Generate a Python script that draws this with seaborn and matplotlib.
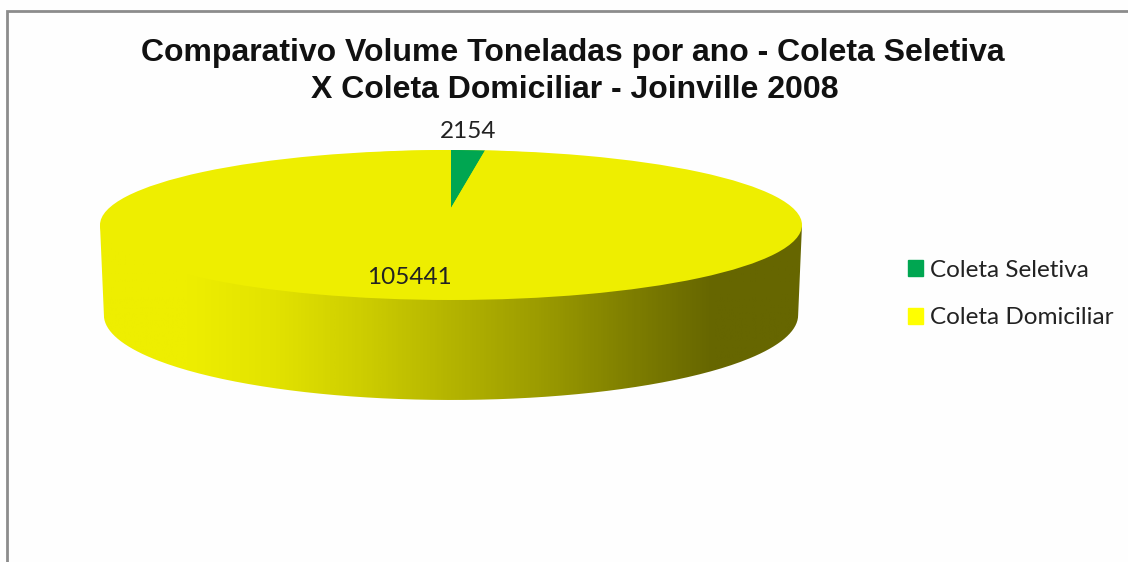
#!/usr/bin/env python3

# 3D looking pie: coleta seletiva x coleta domiciliar, Joinville 2008

import numpy as np
import matplotlib
matplotlib.use("Agg")
import matplotlib.pyplot as plt
import seaborn as sns
from matplotlib.lines import Line2D
from matplotlib.patches import Patch, PathPatch
from matplotlib.path import Path

categories = ["Coleta Seletiva", "Coleta Domiciliar"]
values = [2154, 105441]
title_lines = ["Comparativo Volume Toneladas por ano - Coleta Seletiva",
               "X Coleta Domiciliar - Joinville 2008"]

W, H = 1128, 562
CX, CY, RX, RY = 451, 225, 351, 75
TOP_YELLOW = "#EEEE00"
GREEN = "#00A651"


def fx(px):
    return px / W


def fy(py):
    return 1 - py / H


def main():
    sns.set_theme(style="white")
    plt.rcParams["font.family"] = ["Lato", "DejaVu Sans"]

    fig = plt.figure(figsize=(W / 100, H / 100), dpi=100, facecolor="#FEFEFE")
    ax = fig.add_axes([0, 0, 1, 1])

    # side of the cylinder, gradient clipped to the outline
    shade = sns.blend_palette(["#EEEE00", "#EEEE00", "#E2E200", "#CDCD00", "#B4B400",
                               "#9C9C00", "#808000", "#666600", "#666600"], as_cmap=True)
    gradient = np.linspace(0, 1, 400).reshape(1, -1)
    im = ax.imshow(gradient, cmap=shade, extent=[-1, 1, -3, 1], aspect="auto", zorder=0)
    t = np.linspace(np.pi, 2 * np.pi, 200)
    low_x = 0.989 * np.cos(t)
    low_y = -1.2 + 1.133 * np.sin(t)
    outline = np.vstack([[[-1, 0]], np.column_stack([low_x, low_y]), [[1, 0]], [[-1, 0]]])
    clip = PathPatch(Path(outline), transform=ax.transData)
    im.set_clip_path(clip)

    # top face, the slices hang from a hub above the middle of the ellipse
    ax.pie([sum(values)], colors=[TOP_YELLOW], radius=1, wedgeprops={"linewidth": 0})
    ax.pie(values, colors=[GREEN, TOP_YELLOW], startangle=90, counterclock=False,
           center=(0, 0.227), radius=0.773, wedgeprops={"linewidth": 0})

    ax.set_aspect("auto")
    ax.set_xlim(-CX / RX, (W - CX) / RX)
    ax.set_ylim((CY - H) / RY, CY / RY)
    ax.axis("off")

    # chart frame
    fig.add_artist(Line2D([fx(6.5), fx(6.5), 1], [0, fy(11.3), fy(11.3)], color="#8C8C8C", lw=2,
                          solid_joinstyle="miter"))

    fig.text(fx(573), fy(53), title_lines[0], ha="center", va="center",
             family="Liberation Sans", fontweight="bold", fontsize=23, color="#111111")
    fig.text(fx(575), fy(90), title_lines[1], ha="center", va="center",
             family="Liberation Sans", fontweight="bold", fontsize=23, color="#111111")

    fig.text(fx(468), fy(131), str(values[0]), ha="center", va="center", fontsize=17.5,
             color="#222222")
    fig.text(fx(409), fy(277), str(values[1]), ha="center", va="center", fontsize=17.5,
             color="#222222")

    handles = [Patch(color=GREEN), Patch(color="#FFFF00")]
    fig.legend(handles, categories, loc="upper left", bbox_to_anchor=(fx(898), fy(250)),
               frameon=False, fontsize=17.5, handlelength=0.62, handleheight=0.62,
               handletextpad=0.29, labelspacing=1.1, labelcolor="#222222", borderpad=0.4,
               borderaxespad=0)

    fig.savefig("out.png", dpi=100, facecolor=fig.get_facecolor())


if __name__ == "__main__":
    main()
